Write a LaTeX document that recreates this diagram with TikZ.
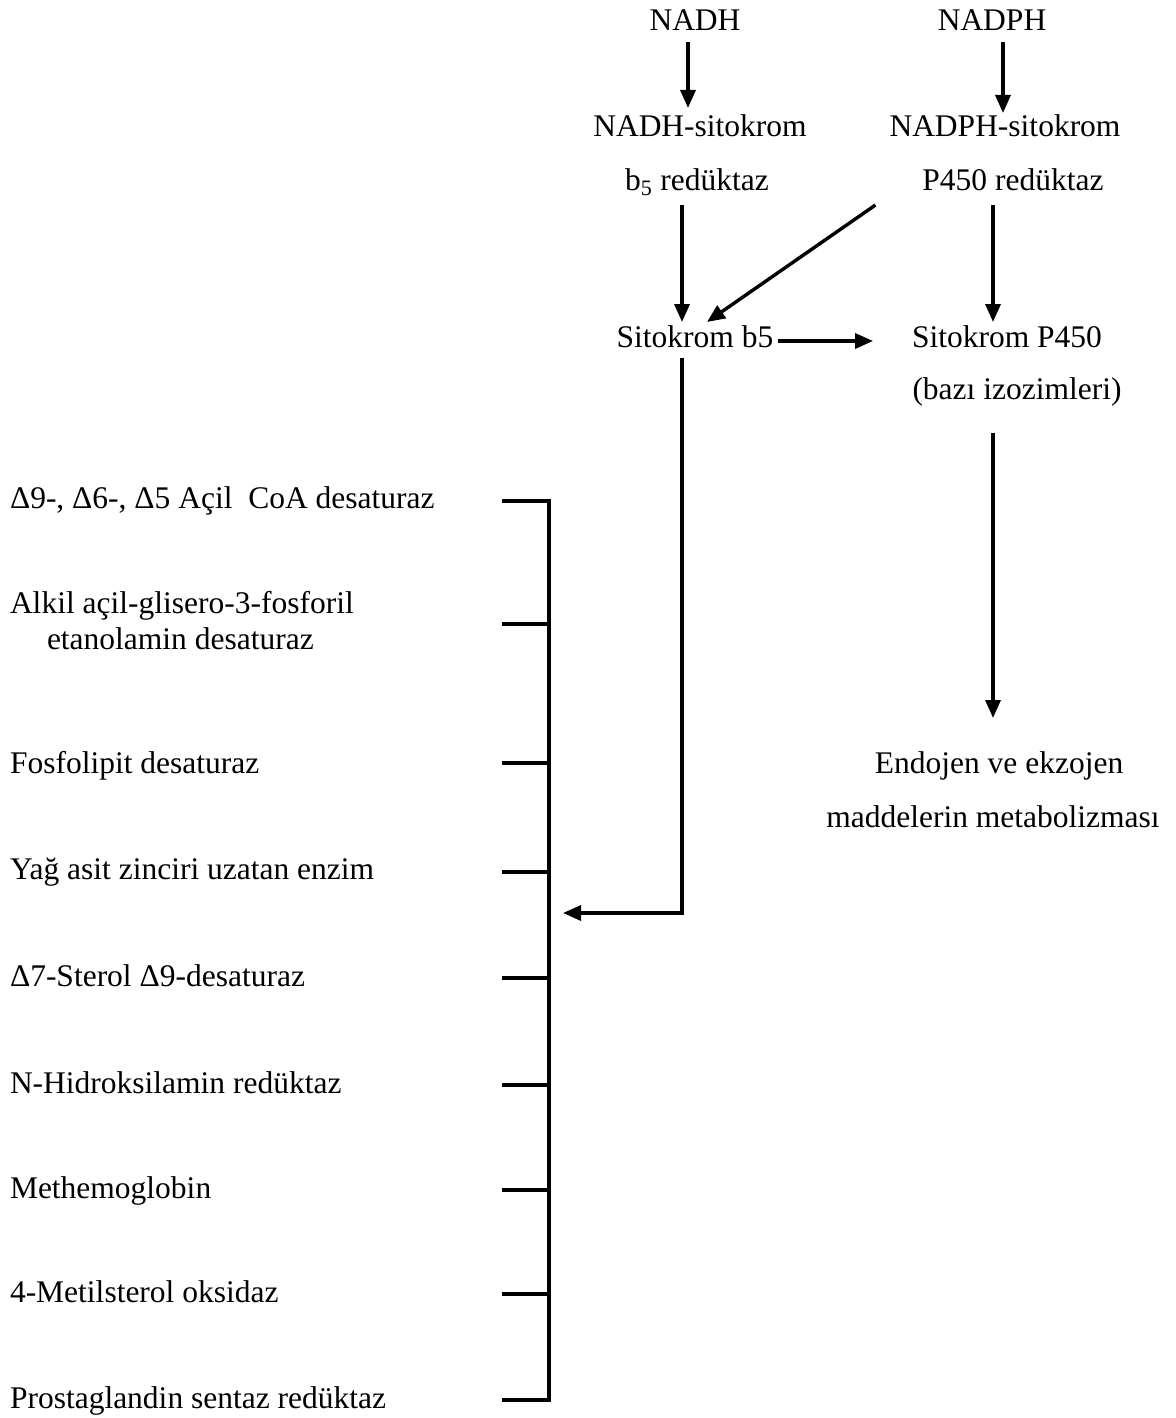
\documentclass[tikz,border=0pt]{standalone}
\usepackage{fontspec}
\setmainfont{Liberation Serif}
\usetikzlibrary{arrows.meta,calc}
\tikzset{
  lbl/.style={inner sep=0pt, outer sep=0pt, text height=22pt, text depth=7pt, anchor=base,
              font=\fontsize{31.5}{36}\selectfont},
  llbl/.style={lbl, anchor=base west},
  arr/.style={line width=3.4pt, -{Triangle[length=18pt,width=15pt]}},
  brk/.style={line width=3.4pt}
}
\begin{document}
\begin{tikzpicture}[x=1pt,y=-1pt]
\useasboundingbox (0,0) rectangle (1175,1418);
% top chain
\node[lbl] (nadh)   at (695,31)  {NADH};
\node[lbl] (nadph)  at (992,31)  {NADPH};
\node[lbl] (nadhs)  at (700,136) {NADH-sitokrom};
\node[lbl] (b5red)  at (697,190) {b\textsubscript{5} redüktaz};
\node[lbl] (nadphs) at (1005,136) {NADPH-sitokrom};
\node[lbl] (p4red)  at (1013,190) {P450 redüktaz};
\node[lbl] (sitob5) at (695,347) {Sitokrom b5};
\node[lbl] (sitop)  at (1007,347) {Sitokrom P450};
\node[lbl] (bazi)   at (1017,399) {(bazı izozimleri)};
\node[lbl] (endo)   at (999,773) {Endojen ve ekzojen};
\node[lbl] (madde)  at (993,827) {maddelerin metabolizması};
% left labels
\node[llbl] (l1) at (10,508)  {Δ9-, Δ6-, Δ5 Açil\ \ CoA desaturaz};
\node[llbl] (l2) at (10,613)  {Alkil açil-glisero-3-fosforil};
\node[llbl] (l2b) at (47,649) {etanolamin desaturaz};
\node[llbl] (l3) at (10,773)  {Fosfolipit desaturaz};
\node[llbl] (l4) at (10,879)  {Yağ asit zinciri uzatan enzim};
\node[llbl] (l5) at (10,986)  {Δ7-Sterol Δ9-desaturaz};
\node[llbl] (l6) at (10,1093) {N-Hidroksilamin redüktaz};
\node[llbl] (l7) at (10,1198) {Methemoglobin};
\node[llbl] (l8) at (10,1302) {4-Metilsterol oksidaz};
\node[llbl] (l9) at (10,1408) {Prostaglandin sentaz redüktaz};
% bracket
\coordinate (btop) at (549,501);
\coordinate (bbot) at (549,1400);
\draw[brk] (502,501) -- (btop) -- (bbot) -- (502,1400);
\foreach \yy in {624,763,872,978,1085,1190,1294}
  \draw[brk] (502,\yy) -- (549,\yy);
\coordinate (bin) at (563,913);
% arrows
\draw[arr] ($(nadh.south)+(-7,4)$) -- ($(nadhs.north)+(-12,-6)$);
\draw[arr] ($(nadph.south)+(11,4)$) -- ($(nadphs.north)+(-2,-1)$);
\draw[arr] ($(b5red.south)+(-15,8)$) -- ($(sitob5.north)+(-13,-3)$);
\draw[arr] ($(p4red.south west)+(-47,8)$) -- ($(sitob5.north)+(12,-3)$);
\draw[arr] ($(p4red.south)+(-20,8)$) -- ($(sitop.north)+(-14,-3)$);
\draw[arr] ($(sitob5.base east)+(5,-6)$) -- ($(sitop.base west)+(-39,-6)$);
\draw[arr] ($(sitob5.south)+(-13,4)$) |- (bin);
\draw[arr] ($(bazi.south)+(-24,27)$) -- ($(endo.north)+(-6,-33)$);
\end{tikzpicture}
\end{document}
